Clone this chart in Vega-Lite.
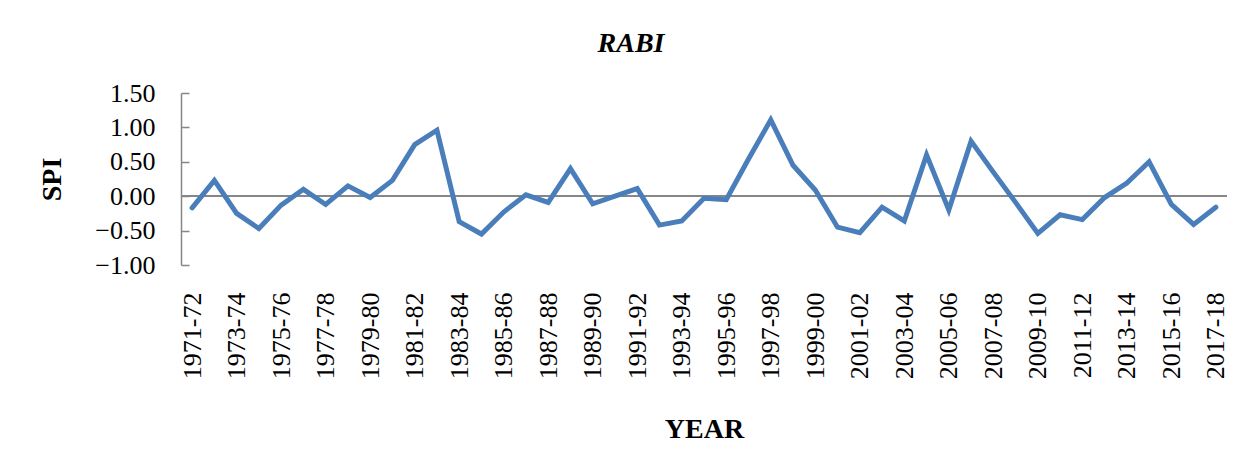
{
  "$schema": "https://vega.github.io/schema/vega-lite/v6.json",
  "width": 1046,
  "height": 172,
  "autosize": {"type": "none"},
  "padding": {"left": 181, "top": 93, "right": 28, "bottom": 207},
  "background": "white",
  "config": {"view": {"stroke": null}, "font": "Liberation Serif"},
  "title": {
    "text": "RABI",
    "font": "Liberation Serif",
    "fontSize": 28,
    "fontWeight": "bold",
    "fontStyle": "italic",
    "color": "black",
    "anchor": "middle",
    "frame": "group",
    "dx": -73,
    "offset": 22
  },
  "data": {
    "values": [
      {"year": "1971-72", "spi": -0.17},
      {"year": "1972-73", "spi": 0.23},
      {"year": "1973-74", "spi": -0.25},
      {"year": "1974-75", "spi": -0.47},
      {"year": "1975-76", "spi": -0.13},
      {"year": "1976-77", "spi": 0.10},
      {"year": "1977-78", "spi": -0.12},
      {"year": "1978-79", "spi": 0.15},
      {"year": "1979-80", "spi": -0.02},
      {"year": "1980-81", "spi": 0.23},
      {"year": "1981-82", "spi": 0.75},
      {"year": "1982-83", "spi": 0.96},
      {"year": "1983-84", "spi": -0.37},
      {"year": "1984-85", "spi": -0.55},
      {"year": "1985-86", "spi": -0.23},
      {"year": "1986-87", "spi": 0.02},
      {"year": "1987-88", "spi": -0.09},
      {"year": "1988-89", "spi": 0.40},
      {"year": "1989-90", "spi": -0.11},
      {"year": "1990-91", "spi": 0.00},
      {"year": "1991-92", "spi": 0.11},
      {"year": "1992-93", "spi": -0.42},
      {"year": "1993-94", "spi": -0.36},
      {"year": "1994-95", "spi": -0.03},
      {"year": "1995-96", "spi": -0.05},
      {"year": "1996-97", "spi": 0.54},
      {"year": "1997-98", "spi": 1.11},
      {"year": "1998-99", "spi": 0.45},
      {"year": "1999-00", "spi": 0.09},
      {"year": "2000-01", "spi": -0.45},
      {"year": "2001-02", "spi": -0.53},
      {"year": "2002-03", "spi": -0.16},
      {"year": "2003-04", "spi": -0.36},
      {"year": "2004-05", "spi": 0.60},
      {"year": "2005-06", "spi": -0.20},
      {"year": "2006-07", "spi": 0.80},
      {"year": "2007-08", "spi": 0.35},
      {"year": "2008-09", "spi": -0.09},
      {"year": "2009-10", "spi": -0.54},
      {"year": "2010-11", "spi": -0.27},
      {"year": "2011-12", "spi": -0.34},
      {"year": "2012-13", "spi": -0.02},
      {"year": "2013-14", "spi": 0.19},
      {"year": "2014-15", "spi": 0.50},
      {"year": "2015-16", "spi": -0.12},
      {"year": "2016-17", "spi": -0.41},
      {"year": "2017-18", "spi": -0.16}
    ]
  },
  "encoding": {
    "y": {
      "field": "spi",
      "type": "quantitative",
      "scale": {"domain": [-1, 1.5], "nice": false, "zero": false},
      "axis": {
        "title": "SPI",
        "titleFont": "Liberation Serif",
        "titleFontSize": 28,
        "titleFontWeight": "bold",
        "titleColor": "black",
        "titleAngle": -90,
        "titleX": -129,
        "titleY": 86,
        "titleAlign": "center",
        "titleBaseline": "middle",
        "values": [-1, -0.5, 0, 0.5, 1, 1.5],
        "format": ".2f",
        "labelFont": "Liberation Serif",
        "labelFontSize": 26,
        "labelColor": "black",
        "labelPadding": 34,
        "labelBaseline": "middle",
        "labelOverlap": false,
        "labelBound": false,
        "labelFlush": false,
        "domainColor": "#868686",
        "domainWidth": 1.5,
        "tickColor": "#868686",
        "tickWidth": 1.5,
        "tickSize": -8,
        "grid": false
      }
    }
  },
  "layer": [
    {
      "mark": {"type": "rule", "color": "#868686", "strokeWidth": 1.5},
      "encoding": {"y": {"datum": 0, "type": "quantitative"}}
    },
    {
      "mark": {"type": "line", "color": "#4a7ebb", "strokeWidth": 5, "strokeJoin": "miter", "strokeCap": "round"},
      "encoding": {
        "x": {
          "field": "year",
          "type": "ordinal",
          "sort": null,
          "scale": {"type": "point", "padding": 0.5},
          "axis": {
            "title": "YEAR",
            "titleFont": "Liberation Serif",
            "titleFontSize": 28,
            "titleFontWeight": "bold",
            "titleColor": "black",
            "titleY": 172,
            "titleBaseline": "alphabetic",
            "values": ["1971-72","1973-74","1975-76","1977-78","1979-80","1981-82","1983-84","1985-86","1987-88","1989-90","1991-92","1993-94","1995-96","1997-98","1999-00","2001-02","2003-04","2005-06","2007-08","2009-10","2011-12","2013-14","2015-16","2017-18"],
            "labelAngle": -90,
            "labelFont": "Liberation Serif",
            "labelFontSize": 26,
            "labelColor": "black",
            "labelPadding": 27,
            "labelOverlap": false,
            "labelBound": false,
            "domain": false,
            "ticks": false,
            "grid": false
          }
        }
      }
    }
  ]
}
